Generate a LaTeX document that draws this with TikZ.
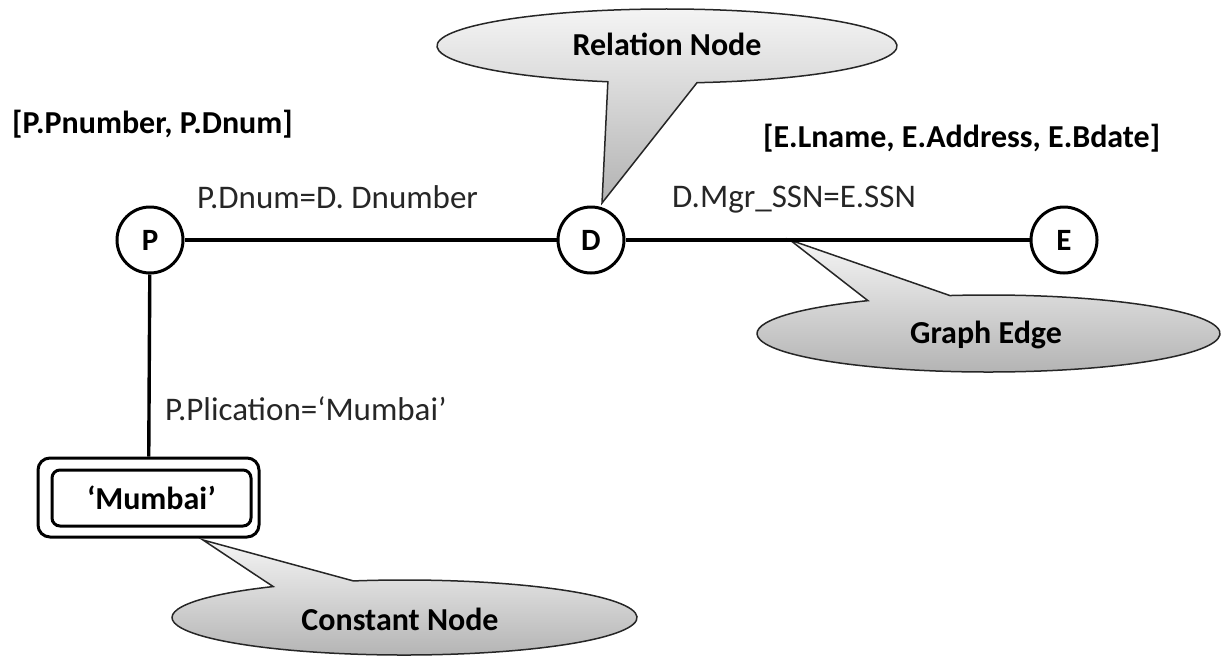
\documentclass[tikz,border=0pt]{standalone}
\usepackage{fontspec}
\setmainfont{Carlito}
\usetikzlibrary{calc}
\tikzset{
  vert/.style={circle, draw, line width=3pt, minimum size=66pt, inner sep=0pt, fill=white,
    font=\bfseries\fontsize{31}{36}\selectfont},
  edgeline/.style={line width=3.4pt},
  lbl/.style={anchor=base west, inner sep=0pt, text=black!85, font=\fontsize{33}{38}\selectfont},
  blbl/.style={anchor=base west, inner sep=0pt, font=\bfseries\fontsize{32}{38}\selectfont},
  callout/.style={draw=black!85, line width=1.5pt, top color=black!4, bottom color=black!30, line join=miter},
  ctext/.style={anchor=base, inner sep=0pt, font=\bfseries\fontsize{32}{38}\selectfont},
  boxline/.style={draw, line width=3pt, fill=white},
}
\begin{document}
\begin{tikzpicture}[x=1pt, y=-1pt]
\useasboundingbox (0,0) rectangle (1225,656);

% callouts
\coordinate (relc) at (667,46);
\coordinate (reltip) at (602,203);
\draw[callout] ($(relc)+(82.5:230 and 37)$) arc[start angle=82.5, end angle=-255.1, x radius=230, y radius=37] -- (reltip) -- cycle;

\coordinate (gc) at (988.5,333.5);
\coordinate (gtip) at (790,240);
\draw[callout] ($(gc)+(-99.6:231.5 and 38.5)$) arc[start angle=-99.6, end angle=238.6, x radius=231.5, y radius=38.5] -- (gtip) -- cycle;

\coordinate (cc) at (404.5,617.5);
\coordinate (ctip) at (203,540);
\draw[callout] ($(cc)+(-102.7:232.5 and 37.5)$) arc[start angle=-102.7, end angle=235.6, x radius=232.5, y radius=37.5] -- (ctip) -- cycle;

\node[ctext] (reltext) at (667,55) {Relation Node};
\node[ctext] (gtext) at (986,343) {Graph Edge};
\node[ctext] (cntext) at (400,630) {Constant Node};

% graph
\node[vert] (P) at (150,240) {P};
\node[vert] (D) at (591,240) {D};
\node[vert] (E) at (1064,240) {E};
\node[boxline, rounded corners=12pt, minimum width=221pt, minimum height=79pt] (mumbaiouter) at (148.5,497.5) {};
\node[boxline, rounded corners=8pt, minimum width=199pt, minimum height=56pt, inner sep=0pt,
  font=\bfseries\fontsize{32}{38}\selectfont] (mumbai) at (151.5,498) {‘Mumbai’};

\draw[edgeline] (P) -- (D);
\draw[edgeline] (D) -- (E);
\draw[edgeline] (P) -- (mumbaiouter);

% labels
\node[blbl] (pproj) at (12,133) {[P.Pnumber, P.Dnum]};
\node[lbl] (pd) at (197,208) {P.Dnum=D. Dnumber};
\node[blbl] (eproj) at (763,147) {[E.Lname, E.Address, E.Bdate]};
\node[lbl] (de) at (672,207) {D.Mgr\_SSN=E.SSN};
\node[lbl] (pm) at (165,420) {P.Plication=‘Mumbai’};
\end{tikzpicture}
\end{document}
